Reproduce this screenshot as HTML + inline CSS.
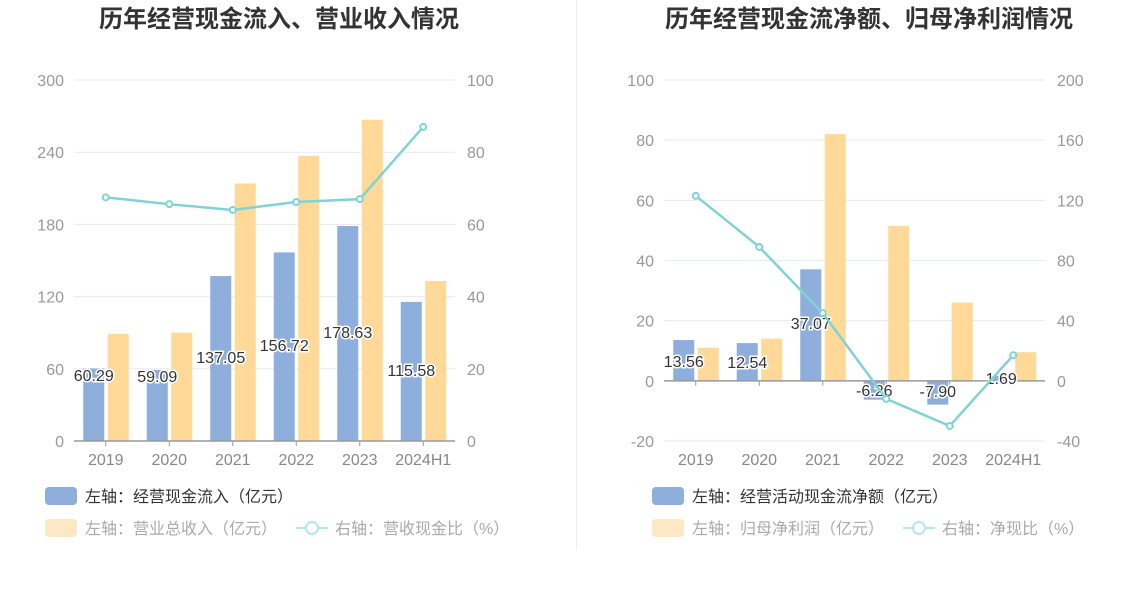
<!DOCTYPE html>
<html><head><meta charset="utf-8"><style>
body{margin:0;background:#fff;width:1147px;height:589px;overflow:hidden;font-family:"Liberation Sans","Noto Sans CJK SC",sans-serif}
svg text{font-family:"Liberation Sans","Noto Sans CJK SC",sans-serif}
</style></head><body>
<svg id="s" width="1147" height="589">
<line x1="576.5" y1="0" x2="576.5" y2="550" stroke="#eee"/>
<text x="279" y="27" text-anchor="middle" font-size="24" font-weight="bold" fill="#333">历年经营现金流入、营业收入情况</text>
<text x="869" y="27" text-anchor="middle" font-size="24" font-weight="bold" fill="#333">历年经营现金流净额、归母净利润情况</text>
<g id="L"></g><g id="R"></g>
<g>
<rect x="45" y="487" width="32" height="18" rx="4" fill="#8eaedc"/>
<text x="85" y="502" font-size="16" fill="#333">左轴：经营现金流入（亿元）</text>
<rect x="45" y="519" width="32" height="18" rx="4" fill="#fde8c6"/>
<text x="85" y="534" font-size="16" fill="#aaa">左轴：营业总收入（亿元）</text>
<line x1="296" y1="528" x2="328" y2="528" stroke="#b8e6e8" stroke-width="2"/><circle cx="312" cy="528" r="6" fill="#fff" stroke="#b8e6e8" stroke-width="2"/>
<text x="335" y="534" font-size="16" fill="#aaa">右轴：营收现金比（%）</text>
</g>
<g>
<rect x="652" y="487" width="32" height="18" rx="4" fill="#8eaedc"/>
<text x="692" y="502" font-size="16" fill="#333">左轴：经营活动现金流净额（亿元）</text>
<rect x="652" y="519" width="32" height="18" rx="4" fill="#fde8c6"/>
<text x="692" y="534" font-size="16" fill="#aaa">左轴：归母净利润（亿元）</text>
<line x1="903" y1="528" x2="935" y2="528" stroke="#b8e6e8" stroke-width="2"/><circle cx="919" cy="528" r="6" fill="#fff" stroke="#b8e6e8" stroke-width="2"/>
<text x="942" y="534" font-size="16" fill="#aaa">右轴：净现比（%）</text>
</g>
</svg>
<script>
const categories=["2019","2020","2021","2022","2023","2024H1"];
const cashInflow=[60.29,59.09,137.05,156.72,178.63,115.58];
const revenue=[89,90,214,237,267,133];
const cashRatio=[67.5,65.6,64,66.2,67,87];
const leftTicks=[0,60,120,180,240,300];
const leftRTicks=[0,20,40,60,80,100];
const netCash=[13.56,12.54,37.07,-6.26,-7.90,1.69];
const netProfit=[11,14,82,51.5,26,9.5];
const netRatio=[123,89,45,-12,-30,17];
const rightTicks=[-20,0,20,40,60,80,100];
const rightRTicks=[-40,0,40,80,120,160,200];
const NS="http://www.w3.org/2000/svg";
function mk(p,t,a,txt){const e=document.createElementNS(NS,t);for(const k in a)e.setAttribute(k,a[k]);if(txt!==undefined)e.textContent=txt;p.appendChild(e);return e;}
function draw(g,o){
  const top=80,bot=441;
  const y=v=>bot-(v-o.min)/(o.max-o.min)*(bot-top);
  const yr=v=>bot-(v-o.rmin)/(o.rmax-o.rmin)*(bot-top);
  const step=(o.x1-o.x0)/categories.length;
  const cx=i=>o.x0+step*(i+0.5);
  o.ticks.forEach(t=>{
    const gl=mk(g,'line',{x1:o.x0,x2:o.x1,y1:y(t),y2:y(t),stroke:'#e6eaf5'});
    
    const tl=mk(g,'text',{x:o.x0-10,y:y(t)+6,'text-anchor':'end','font-size':16,fill:'#999'},t);
    
  });
  o.rticks.forEach(t=>{
    const tl=mk(g,'text',{x:o.x1+12,y:yr(t)+6,'font-size':16,fill:'#999'},t);
    
  });
  categories.forEach((c,i)=>{
    const a=o.a[i],b=o.b[i];
    const r1=mk(g,'rect',{x:cx(i)-22.5,y:Math.min(y(a),y(0)),width:21,height:Math.abs(y(a)-y(0)),fill:'#8eaedc'});
    
    const r2=mk(g,'rect',{x:cx(i)+2,y:Math.min(y(b),y(0)),width:21,height:Math.abs(y(b)-y(0)),fill:'#fed998'});
    
    const xl=mk(g,'text',{x:cx(i),y:465,'text-anchor':'middle','font-size':16,fill:'#888'},c);
    
    mk(g,'line',{x1:cx(i),x2:cx(i),y1:y(0),y2:y(0)+5,stroke:'#999'});
  });
  const ax=mk(g,'line',{x1:o.x0,x2:o.x1,y1:y(0),y2:y(0),stroke:'#999','stroke-width':1.5});
  
  categories.forEach((c,i)=>{
    const lt=mk(g,'text',{x:cx(i)-12,y:o.ly[i],'text-anchor':'middle','font-size':16,fill:'#333',stroke:'#fff','stroke-width':3,'paint-order':'stroke'},o.a[i].toFixed(2));
    
  });
  const pl=mk(g,'polyline',{points:o.c.map((v,i)=>cx(i)+','+yr(v)).join(' '),fill:'none',stroke:'#7fd3d6','stroke-width':2.5});
  
  o.c.forEach((v,i)=>{
    const p=mk(g,'circle',{cx:cx(i),cy:yr(v),r:3,fill:'#fff',stroke:'#7fd3d6','stroke-width':2});
    
  });
}
draw(document.getElementById('L'),{x0:74,x1:455,min:0,max:300,rmin:0,rmax:100,ticks:leftTicks,rticks:leftRTicks,a:cashInflow,b:revenue,c:cashRatio,an:'cash-inflow',bn:'revenue',ly:[381,382,363,351,338,376]});
draw(document.getElementById('R'),{x0:664,x1:1045,min:-20,max:100,rmin:-40,rmax:200,ticks:rightTicks,rticks:rightRTicks,a:netCash,b:netProfit,c:netRatio,an:'net-cash',bn:'net-profit',ly:[367,368,329,396,397,384]});
</script>
</body></html>
